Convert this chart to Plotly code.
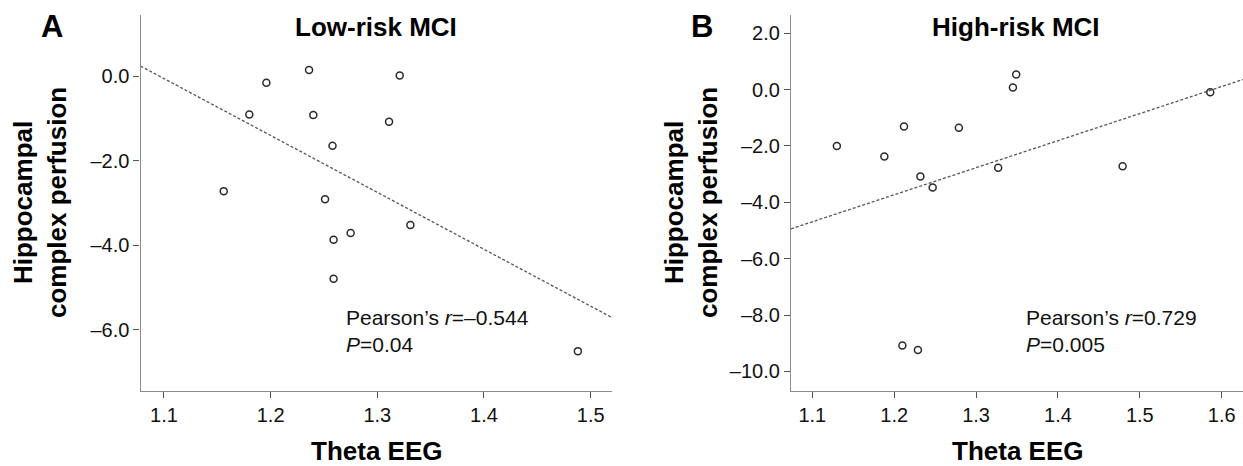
import numpy as np
import plotly.graph_objects as go

W, H = 1243, 466

# ---- data ----
theta_low = [1.156, 1.180, 1.196, 1.236, 1.240, 1.258, 1.251, 1.259, 1.275, 1.259, 1.311, 1.321, 1.331, 1.488]
perf_low = [-2.72, -0.91, -0.16, 0.14, -0.92, -1.65, -2.91, -3.87, -3.71, -4.79, -1.08, 0.01, -3.52, -6.50]

theta_high = [1.130, 1.188, 1.212, 1.210, 1.229, 1.232, 1.247, 1.279, 1.327, 1.345, 1.349, 1.479, 1.586]
perf_high = [-2.00, -2.37, -1.31, -9.08, -9.24, -3.08, -3.47, -1.35, -2.77, 0.08, 0.54, -2.72, -0.09]

x_ticks_low = [1.1, 1.2, 1.3, 1.4, 1.5]
x_ticks_high = [1.1, 1.2, 1.3, 1.4, 1.5, 1.6]
y_ticks_low = [0, -2, -4, -6]
y_ticks_high = [2, 0, -2, -4, -6, -8, -10]

x_range_low = [1.078, 1.52]
y_range_low = [-7.43, 1.441]
x_range_high = [1.074, 1.626]
y_range_high = [-10.68, 2.65]

FONT = "Liberation Sans, Arial, sans-serif"


def fmt(v):
    s = f"{abs(v):.1f}"
    return ("\u2013" + s) if v < 0 else s


def fit_line(x, y, xr):
    b, a = np.polyfit(np.array(x), np.array(y), 1)
    xs = np.array(xr)
    return xs, a + b * xs


fig = go.Figure()

for xs, ys, xr, xa, ya in [
    (theta_low, perf_low, x_range_low, "x", "y"),
    (theta_high, perf_high, x_range_high, "x2", "y2"),
]:
    lx, ly = fit_line(xs, ys, xr)
    fig.add_trace(go.Scatter(x=lx, y=ly, mode="lines", xaxis=xa, yaxis=ya,
                             line=dict(color="#555555", width=1.3, dash="3px,2px"),
                             showlegend=False, hoverinfo="skip"))
    fig.add_trace(go.Scatter(x=xs, y=ys, mode="markers", xaxis=xa, yaxis=ya,
                             marker=dict(symbol="circle-open", size=7, color="#2a2a2a",
                                         line=dict(width=1.5, color="#2a2a2a")),
                             showlegend=False))

ydom = [(H - 390.5) / H, (H - 15) / H]

axis_common = dict(showline=True, linecolor="#8c8c8c", linewidth=1.3,
                   ticks="outside", ticklen=6, tickwidth=1.3, tickcolor="#555555",
                   showgrid=False, zeroline=False, mirror=False,
                   tickfont=dict(family=FONT, size=20, color="#111111"))

fig.update_layout(
    width=W, height=H,
    margin=dict(l=0, r=0, t=0, b=0),
    paper_bgcolor="white", plot_bgcolor="white",
    font=dict(family=FONT, color="#111111"),
    xaxis=dict(domain=[140.5 / W, 612 / W], range=x_range_low, anchor="y",
               tickvals=x_ticks_low, ticktext=[f"{v:.1f}" for v in x_ticks_low], **axis_common),
    yaxis=dict(domain=ydom, range=y_range_low, anchor="x",
               tickvals=y_ticks_low, ticktext=[fmt(v) for v in y_ticks_low], **axis_common),
    xaxis2=dict(domain=[791 / W, 1.0], range=x_range_high, anchor="y2",
                tickvals=x_ticks_high, ticktext=[f"{v:.1f}" for v in x_ticks_high], **axis_common),
    yaxis2=dict(domain=ydom, range=y_range_high, anchor="x2",
                tickvals=y_ticks_high, ticktext=[fmt(v) for v in y_ticks_high], **axis_common),
)


def px(x):
    return x / W


def py(y):
    return (H - y) / H


ann = []
# panel letters
for lab, cx in [("A", 51.5), ("B", 701.5)]:
    ann.append(dict(text=f"<b>{lab}</b>", x=px(cx), y=py(26), xanchor="center", yanchor="middle",
                    font=dict(size=31, family=FONT, color="#000")))
# titles
for t, cx in [("Low-risk MCI", 376), ("High-risk MCI", 1016)]:
    ann.append(dict(text=f"<b>{t}</b>", x=px(cx), y=py(27), xanchor="center", yanchor="middle",
                    font=dict(size=26, family=FONT, color="#000")))
# x titles
for cx in [376, 1017]:
    ann.append(dict(text="<b>Theta EEG</b>", x=px(cx), y=py(451), xanchor="center", yanchor="middle",
                    font=dict(size=26, family=FONT, color="#000")))
# y titles
for cx in [40, 691]:
    ann.append(dict(text="<b>Hippocampal<br>complex perfusion</b>", x=px(cx), y=py(203),
                    xanchor="center", yanchor="middle", textangle=-90,
                    font=dict(size=26, family=FONT, color="#000")))
# stats
for txt, lx in [("Pearson\u2019s <i>r</i>=\u20130.544<br><i>P</i>=0.04", 344),
                ("Pearson\u2019s <i>r</i>=0.729<br><i>P</i>=0.005", 1024)]:
    ann.append(dict(text=txt, x=px(lx), y=py(331), xanchor="left", yanchor="middle", align="left",
                    font=dict(size=21, family=FONT, color="#111")))

for a in ann:
    a.update(xref="paper", yref="paper", showarrow=False)
fig.update_layout(annotations=ann)

fig.write_html("out.html", config={"displayModeBar": False},
               post_script="document.body.style.margin='0';document.body.style.overflow='hidden';")
